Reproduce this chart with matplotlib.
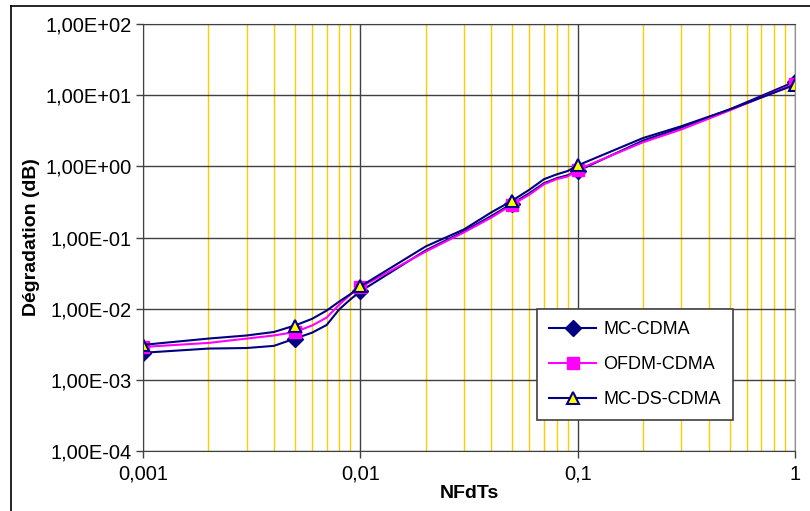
import numpy as np
import matplotlib.pyplot as plt
from matplotlib.ticker import FuncFormatter, LogLocator, NullFormatter
from matplotlib.lines import Line2D

plt.rcParams['font.family'] = ['Liberation Sans', 'DejaVu Sans']

# donnees
nfdts = [0.001, 0.002, 0.003, 0.004, 0.005, 0.006, 0.007, 0.008, 0.009, 0.01,
         0.02, 0.03, 0.04, 0.05, 0.06, 0.07, 0.08, 0.09, 0.1, 0.2, 0.3, 0.5, 1]
points_marques = [0, 4, 9, 13, 18, 22]

mc_cdma = [2.4e-3, 2.75e-3, 2.8e-3, 3.0e-3, 3.8e-3, 4.6e-3, 5.9e-3, 9.8e-3, 1.35e-2, 1.75e-2,
           0.066, 0.122, 0.2, 0.30, 0.42, 0.58, 0.68, 0.75, 0.86, 2.3, 3.5, 6.3, 15.5]
ofdm_cdma = [2.9e-3, 3.3e-3, 3.8e-3, 4.2e-3, 4.7e-3, 5.8e-3, 7.5e-3, 1.14e-2, 1.58e-2, 2.0e-2,
             0.0635, 0.118, 0.19, 0.29, 0.40, 0.56, 0.66, 0.72, 0.9, 2.18, 3.3, 6.1, 14.5]
mc_ds_cdma = [3.1e-3, 3.8e-3, 4.2e-3, 4.7e-3, 5.8e-3, 7.2e-3, 9.4e-3, 1.26e-2, 1.6e-2, 2.05e-2,
              0.075, 0.13, 0.225, 0.33, 0.47, 0.66, 0.77, 0.86, 1.03, 2.5, 3.66, 6.3, 14.0]

fig = plt.figure(figsize=(8.1, 5.11), dpi=100)
ax = fig.add_axes([143/810, 1-451/511, 652/810, 427/511])

# cadre exterieur (bords gauche et haut visibles)
fig.lines.append(Line2D([11/810, 11/810], [0, 1-6/511], transform=fig.transFigure, color='black', lw=1.2))
fig.lines.append(Line2D([11/810, 1], [1-6/511, 1-6/511], transform=fig.transFigure, color='black', lw=1.2))

ax.plot(nfdts, mc_cdma, color='#000080', lw=1.5, marker='D', ms=8,
        markerfacecolor='#000080', markeredgecolor='#000080', markevery=points_marques, label='MC-CDMA')
ax.plot(nfdts, ofdm_cdma, color='#FF00FF', lw=1.5, marker='s', ms=8,
        markerfacecolor='#FF00FF', markeredgecolor='#FF00FF', markevery=points_marques, label='OFDM-CDMA')
ax.plot(nfdts, mc_ds_cdma, color='#000080', lw=1.5, marker='^', ms=9,
        markerfacecolor='#FFFF00', markeredgecolor='#000080', markeredgewidth=1.5,
        markevery=points_marques, label='MC-DS-CDMA')

ax.set_xscale('log')
ax.set_yscale('log')
ax.set_xlim(0.001, 1)
ax.set_ylim(1e-4, 1e2)

ax.xaxis.set_major_locator(LogLocator(base=10, numticks=10))
ax.xaxis.set_minor_locator(LogLocator(base=10, subs=np.arange(2, 10), numticks=20))
ax.yaxis.set_major_locator(LogLocator(base=10, numticks=10))
ax.yaxis.set_minor_locator(LogLocator(base=10, subs=[], numticks=10))
ax.xaxis.set_minor_formatter(NullFormatter())
ax.yaxis.set_minor_formatter(NullFormatter())

ax.xaxis.set_major_formatter(FuncFormatter(lambda v, p: ('%g' % v).replace('.', ',')))
ax.yaxis.set_major_formatter(FuncFormatter(lambda v, p: ('%.2E' % v).replace('.', ',')))

ax.grid(True, which='minor', axis='x', color='#FFCC00', lw=1)
ax.grid(True, which='major', axis='both', color='#404040', lw=1)
ax.set_axisbelow(True)

ax.tick_params(which='major', direction='out', length=5, width=1, color='#404040',
               labelsize=14.5, pad=3)
ax.tick_params(axis='x', pad=5)
ax.tick_params(which='minor', length=0)
for s in ['left', 'bottom', 'top']:
    ax.spines[s].set_color('#404040')
ax.spines['right'].set_color('#909090')

ax.set_xlabel('NFdTs', fontsize=14, fontweight='bold', labelpad=1)
ax.set_ylabel('Dégradation (dB)', fontsize=14, fontweight='bold', labelpad=4)

leg = ax.legend(loc='lower left', bbox_to_anchor=(0.605, 0.073), borderaxespad=0,
                fontsize=13, fancybox=False, edgecolor='#404040', framealpha=1,
                handlelength=2.6, handletextpad=0.4, labelspacing=1.0, borderpad=0.65)
leg.get_frame().set_linewidth(1.2)

fig.savefig('out.png', dpi=100)
